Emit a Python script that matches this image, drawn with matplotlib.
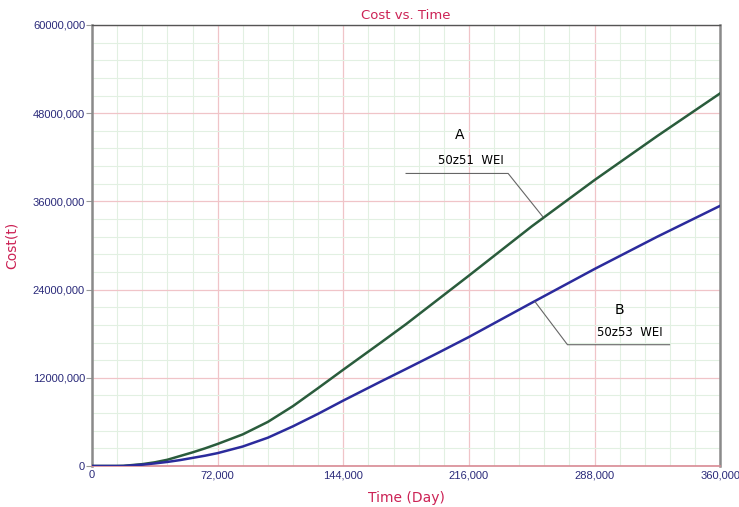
import matplotlib.pyplot as plt
from matplotlib.ticker import MultipleLocator

# time axis (days) and cost values (millions)
time_days = [0, 14400, 18000, 28800, 36000, 43200, 50400, 57600, 64800, 72000,
             86400, 100800, 115200, 129600, 144000, 165600, 180000, 198000,
             216000, 252000, 288000, 324000, 360000]
cost_a = [0, 0, 0.02, 0.25, 0.5, 0.85, 1.35, 1.85, 2.4, 3.0,
          4.3, 6.0, 8.15, 10.6, 13.1, 16.8, 19.3, 22.6,
          25.9, 32.6, 38.9, 44.9, 50.7]
cost_b = [0, 0, 0, 0.18, 0.35, 0.55, 0.8, 1.1, 1.4, 1.75,
          2.65, 3.85, 5.4, 7.1, 8.9, 11.5, 13.2, 15.35,
          17.55, 22.2, 26.8, 31.2, 35.4]

x_ticks = [0, 72000, 144000, 216000, 288000, 360000]
x_labels = ["0", "72,000", "144,000", "216,000", "288,000", "360,000"]
y_ticks = [0, 12e6, 24e6, 36e6, 48e6, 60e6]
y_labels = ["0", "12000,000", "24000,000", "36000,000", "48000,000", "60000,000"]

red = "#cc2255"
navy = "#2a2a7a"

fig = plt.figure(figsize=(7.39, 5.07), dpi=100)
ax = fig.add_axes([0.1245, 0.0809, 0.85, 0.8698])

ya = [v * 1e6 for v in cost_a]
yb = [v * 1e6 for v in cost_b]
ax.plot(time_days, ya, color="#2a5c3c", lw=1.8, zorder=3)
ax.plot(time_days, yb, color="#2b2b9c", lw=1.8, zorder=3)

ax.set_xlim(0, 360000)
ax.set_ylim(0, 60e6)
ax.set_xticks(x_ticks)
ax.set_xticklabels(x_labels)
ax.set_yticks(y_ticks)
ax.set_yticklabels(y_labels)
ax.xaxis.set_minor_locator(MultipleLocator(14400))
ax.yaxis.set_minor_locator(MultipleLocator(2.4e6))

ax.grid(which="minor", color="#e2f0e2", lw=0.8, zorder=0)
ax.grid(which="major", color="#f0c4c8", lw=0.9, zorder=1)

ax.tick_params(which="minor", length=0)
ax.tick_params(axis="both", which="major", labelsize=8, labelcolor=navy,
               color="#999999", length=4, width=0.8, pad=1)
ax.tick_params(axis="x", which="major", length=0, pad=3)
for lab in ax.get_xticklabels() + ax.get_yticklabels():
    lab.set_fontfamily("Liberation Sans")

for s in ["left", "right"]:
    ax.spines[s].set_color("#8a8a8a")
    ax.spines[s].set_linewidth(1.8)
ax.spines["top"].set_color("#555555")
ax.spines["top"].set_linewidth(1.0)
ax.spines["bottom"].set_color("#d88a94")
ax.spines["bottom"].set_linewidth(1.2)

ax.set_title("Cost vs. Time", color=red, fontsize=9.5, pad=4)
ax.set_xlabel("Time (Day)", color=red, fontsize=10, labelpad=8)
ax.set_ylabel("Cost(t)", color=red, fontsize=10)
ax.yaxis.set_label_coords(-0.117, 0.5)

# annotations for the two curves
ax.text(210500, 45.0e6, "A", fontsize=10, ha="center", va="center", color="black")
ax.text(217000, 41.6e6, "50z51  WEI", fontsize=8.5, ha="center", va="center", color="black")
ax.plot([180000, 238500, 258400], [39.8e6, 39.8e6, 33.9e6], color="#666666", lw=0.8, zorder=4)

ax.text(302000, 21.2e6, "B", fontsize=10, ha="center", va="center", color="black")
ax.text(308500, 18.2e6, "50z53  WEI", fontsize=8.5, ha="center", va="center", color="black")
ax.plot([253900, 272500, 331000], [22.35e6, 16.5e6, 16.5e6], color="#666666", lw=0.8, zorder=4)

fig.savefig("out.png", dpi=100)
